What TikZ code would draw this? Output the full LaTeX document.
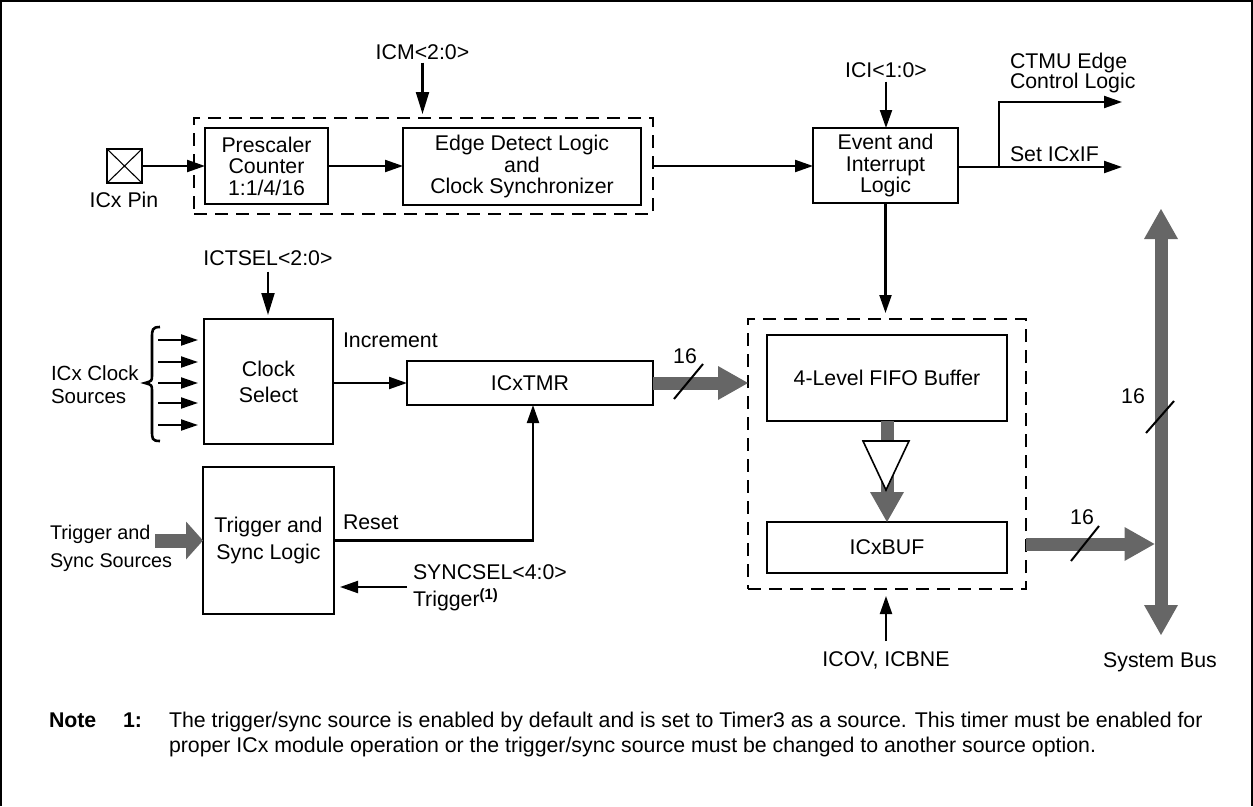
\documentclass[tikz,border=0pt]{standalone}
\usepackage{fontspec}
\setmainfont{Liberation Sans}
\usetikzlibrary{arrows.meta,calc}
\definecolor{busgray}{gray}{0.4}
\begin{document}
\begin{tikzpicture}[x=1pt,y=-1pt,
  every node/.style={inner sep=0pt, outer sep=0pt, font=\fontsize{21.3}{21.5}\selectfont},
  blk/.style={draw, line width=2.1pt, align=center},
  dbox/.style={draw, line width=2.1pt, dash pattern=on 13pt off 8pt},
  arr/.style={line width=2.1pt, -{Triangle[length=18pt,width=12pt]}},
  gbus/.style={line width=13pt, draw=busgray, -{Triangle[length=30pt,width=34pt,line width=0pt,fill=busgray]}},
  gbus2/.style={line width=13pt, draw=busgray, {Triangle[length=30pt,width=34pt,line width=0pt,fill=busgray]}-{Triangle[length=30pt,width=34pt,line width=0pt,fill=busgray]}},
  slash/.style={line width=2pt},
]
\useasboundingbox (0,0) rectangle (1253,806);
\draw[line width=1.5pt] (1,806) -- (1,1) -- (1252,1) -- (1252,806);

% top row
\node[blk, minimum width=35pt, minimum height=34pt] (pin) at (124.5,166) {};
\draw[line width=1.1pt] (pin.north west) -- (pin.south east) (pin.north east) -- (pin.south west);
\node (pinlbl) at (124,200) {ICx Pin};

\node[dbox, minimum width=459pt, minimum height=96pt] (d1) at (423.5,166) {};
\node[blk, minimum width=123pt, minimum height=76pt] (presc) at (266.5,166) {Prescaler\\Counter\\1:1/4/16};
\node[blk, minimum width=238pt, minimum height=77pt] (edge) at (522,166.5) {Edge Detect Logic\\and\\Clock Synchronizer};
\node[blk, minimum width=145pt, minimum height=75pt] (event) at (885.5,165.5) {Event and\\Interrupt\\Logic};

\draw[arr] (pin.east) -- (presc.west);
\draw[arr] (presc.east) -- (edge.west |- presc.east);
\draw[arr] (d1.east |- presc.east) -- (event.west |- presc.east);

\node (icm) at (422.5,52) {ICM<2:0>};
\draw[arr, -{Triangle[length=22pt,width=13pt]}, shorten >=4pt] ($(icm.south)+(0,3)$) -- (icm.south |- d1.north);
\node (ici) at (886,70) {ICI<1:0>};
\draw[arr] ($(ici.south)+(0,4)$) -- (ici.south |- event.north);

\coordinate (br) at (999,167);
\coordinate (ctmu) at (1122,102);
\coordinate (setif) at (1122,167);
\draw[arr] (event.east |- br) -- (setif);
\draw[arr] (br) -- (br |- ctmu) -- (ctmu);
\node[anchor=west, align=left, font=\fontsize{21.3}{20.5}\selectfont] (ctmul) at (1010,73) {CTMU Edge\\Control Logic};
\node[anchor=west] (setl) at (1010,154) {Set ICxIF};

% clock select
\node[blk, minimum width=129pt, minimum height=125pt, font=\fontsize{21.3}{26}\selectfont] (clk) at (268.5,381.5) {Clock\\Select};
\node (ictsel) at (268,258) {ICTSEL<2:0>};
\draw[arr, -{Triangle[length=22pt,width=13pt]}, shorten >=4pt] ($(ictsel.south)+(0,6)$) -- (ictsel.south |- clk.north);
\draw[line width=2.6pt] (160,327) .. controls (152,327) and (152,330) .. (152,338) -- (152,375)
  .. controls (152,381) .. (145,383) .. controls (152,385) .. (152,391) -- (152,430)
  .. controls (152,439) and (152,441) .. (160,441);
\foreach \yy in {340,362,383,403,425}
  \draw[line width=2pt, -{Triangle[length=17pt,width=11pt]}, shorten >=6pt] (158,\yy) -- (clk.west |- 0,\yy);
\node[anchor=west, align=left, font=\fontsize{20.5}{23}\selectfont] (clksrc) at (51,385) {ICx Clock\\Sources};

\node[anchor=west] (incl) at (343,340) {Increment};
\node[blk, minimum width=246pt, minimum height=44pt] (tmr) at (530,383) {ICxTMR};
\draw[arr] (clk.east |- tmr.west) -- (tmr.west);

% FIFO
\node[dbox, minimum width=278pt, minimum height=270pt] (d2) at (887,454) {};
\node[blk, minimum width=240pt, minimum height=86pt] (fifo) at (887,378) {4-Level FIFO Buffer};
\node[blk, minimum width=240pt, minimum height=51pt] (buf) at (887,547.5) {ICxBUF};

\draw[gbus] (tmr.east) -- (tmr.east -| d2.west);
\node (n16a) at (685,356) {16};
\draw[slash] (674,399) -- (703,364);

\draw[arr, shorten >=6pt] (event.south) -- (event.south |- d2.north);

\draw[gbus] (fifo.south) -- (buf.north);
\draw[line width=1.6pt, fill=white] (863,441) -- (909,441) -- (886,490) -- cycle;

% system bus
\coordinate (bt) at (1161,209);
\coordinate (bb) at (1161,635);
\draw[gbus2] (bt) -- (bb);
\coordinate (bx) at (1154.5,544);
\draw[gbus] (d2.east |- bx) -- (bx);
\node (n16b) at (1082,517) {16};
\draw[slash] (1071,561) -- (1099,526);
\node (n16c) at (1133,396) {16};
\draw[slash] (1146,433) -- (1174,401);
\node (sysbus) at (1160,662) {System Bus};

\node (icov) at (886,660) {ICOV, ICBNE};
\draw[arr, shorten >=7pt] ($(icov.north)+(0,-10)$) -- (icov.north |- d2.south);

% trigger
\node[blk, minimum width=131pt, minimum height=147pt, font=\fontsize{21.3}{27}\selectfont] (trig) at (268.5,540.5) {Trigger and\\Sync Logic};
\node[anchor=west, align=left, font=\fontsize{19.8}{28}\selectfont] (trigsrc) at (50,548) {Trigger and\\Sync Sources};
\draw[line width=14pt, draw=busgray, -{Triangle[length=17pt,width=38pt,line width=0pt,fill=busgray]}] ([xshift=-48pt]trig.west) -- (trig.west);

\coordinate (rs) at (533,540.5);
\draw[arr] (trig.east |- rs) -- (rs) -- (rs |- tmr.south);
\node[anchor=west] (resetl) at (343,522) {Reset};

\coordinate (sy) at (407,587);
\draw[arr, shorten >=6pt] (sy) -- (trig.east |- sy);
\node[anchor=west, align=left, font=\fontsize{21.3}{27}\selectfont] (syncl) at (413,588) {SYNCSEL<4:0>\\Trigger\textsuperscript{\textbf{(1)}}};

% note
\node[anchor=base west, font=\bfseries\fontsize{21.3}{25}\selectfont] (note) at (49,727) {Note};
\node[anchor=base west, font=\bfseries\fontsize{21.3}{25}\selectfont] (note1) at (123,727) {1:};
\node[anchor=base west] (nt1) at (169,727) {The trigger/sync source is enabled by default and is set to Timer3 as a source. This timer must be enabled for};
\node[anchor=base west] (nt2) at (169,752) {proper ICx module operation or the trigger/sync source must be changed to another source option.};
\end{tikzpicture}
\end{document}
